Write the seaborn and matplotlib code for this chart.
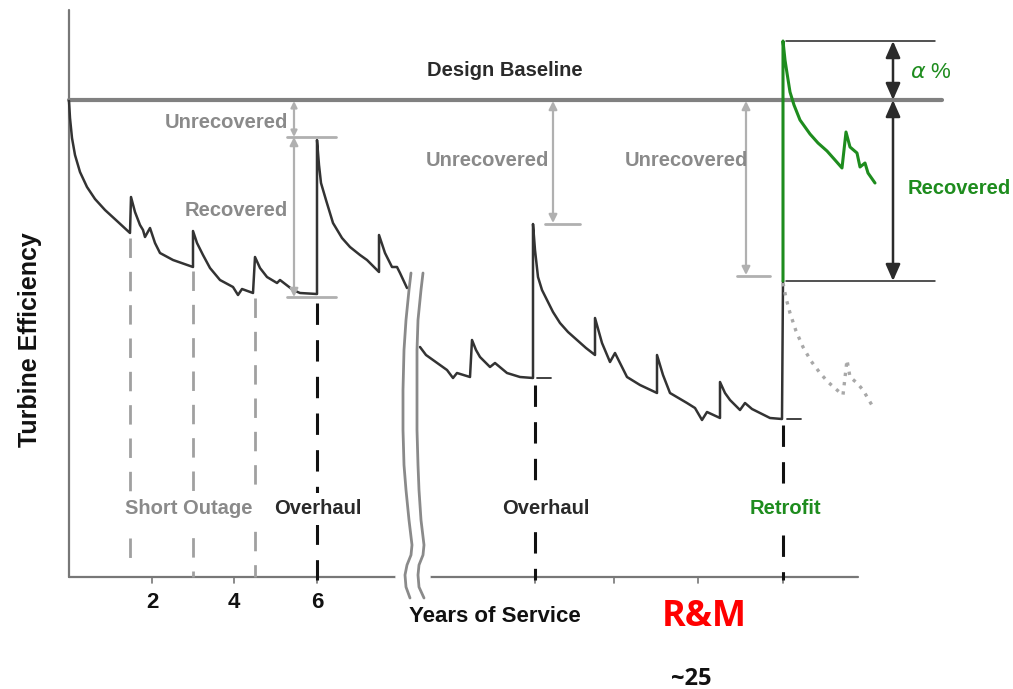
import numpy as np
import pandas as pd
import seaborn as sns
import matplotlib.pyplot as plt
from matplotlib import font_manager

sns.set_theme(style="white")

# positions are in plot units (0..1013 across, 0..689 down, like the source picture)
# efficiency trace before the axis break
pre_x = [69, 70, 72, 75, 80, 87, 95, 105, 117, 130, 131, 135, 140, 143, 145, 150, 155, 160, 173, 193,
         193, 197, 203, 210, 220, 233, 238, 242, 253, 255, 260, 267, 277, 280, 293, 300, 317,
         317, 319, 321, 326, 333, 342, 350, 360, 367, 379, 379, 385, 392, 397, 400, 407]
pre_y = [101, 118, 138, 155, 172, 187, 199, 210, 221, 233, 197, 212, 225, 230, 237, 228, 243, 253, 260, 267,
         231, 243, 255, 268, 280, 287, 295, 289, 293, 257, 268, 277, 283, 280, 290, 293, 294,
         140, 165, 183, 200, 223, 238, 247, 255, 260, 272, 235, 253, 267, 267, 273, 288]

# efficiency trace after the axis break, up to the retrofit
post_x = [420, 426, 433, 447, 453, 457, 470, 472, 476, 480, 490, 495, 507, 520, 533,
          533, 535, 538, 542, 547, 553, 560, 568, 577, 586, 595, 595, 602, 610, 615, 627, 640, 657,
          657, 663, 670, 687, 695, 702, 707, 720, 720, 725, 730, 740, 745, 752, 760, 770, 782, 783]
post_y = [347, 355, 360, 370, 378, 373, 377, 340, 350, 357, 367, 363, 373, 377, 378,
          224, 250, 277, 290, 300, 312, 323, 332, 340, 348, 355, 318, 343, 362, 353, 377, 385, 393,
          355, 375, 393, 403, 408, 420, 412, 418, 382, 393, 400, 410, 403, 409, 413, 418, 419, 281]

# retrofit trace (green)
retro_x = [783, 783, 785, 787, 790, 794, 800, 810, 818, 827, 835, 842, 846, 850, 857, 860, 865, 868, 875]
retro_y = [281, 41, 60, 73, 92, 105, 120, 134, 143, 151, 160, 168, 132, 147, 153, 167, 163, 173, 183]

# what would have happened without retrofit (dotted)
norefit_x = [783, 786, 790, 796, 803, 811, 820, 828, 837, 843, 847, 850, 857, 863, 873]
norefit_y = [283, 298, 313, 331, 347, 361, 373, 382, 390, 395, 360, 377, 383, 390, 407]

baseline_y = 100
axis_y = 577
axis_x = 69

short_outage_x = [130, 193, 255]
short_outage_top = [238, 271, 298]
overhaul_x = [317, 535]
overhaul_top = [303, 385]
retrofit_x = 783
retrofit_top = 425

tick_x = [152, 234, 317, 535, 614, 698, 783]
tick_labels = ["2", "4", "6"]

# break symbol (two wavy lines)
brk_left_x = [411, 409, 406, 404, 403, 403, 404, 406, 409, 412, 411, 407, 405, 406, 410]
brk_right_x = [423, 421, 418, 417, 417, 417, 418, 419, 421, 424, 423, 419, 418, 419, 424]
brk_y = [273, 290, 320, 350, 390, 430, 465, 490, 520, 545, 555, 565, 575, 587, 598]

cond = ["Liberation Sans", "DejaVu Sans"]
plain = ["Liberation Sans", "DejaVu Sans"]
round_font = ["Open Sans", "Liberation Sans", "DejaVu Sans"]

fig = plt.figure(figsize=(10.13, 6.89), dpi=100)
ax = fig.add_axes([0, 0, 1, 1])
ax.set_xlim(0, 1013)
ax.set_ylim(689, 0)
ax.axis("off")

dark = "#333333"
green = "#1e8c1e"
lgrey = "#b0b0b0"

# axes lines
ax.plot([axis_x, axis_x], [10, axis_y], color="#777777", lw=1.6)
ax.plot([axis_x, 398], [axis_y, axis_y], color="#777777", lw=1.6)
ax.plot([428, 858], [axis_y, axis_y], color="#777777", lw=1.6)
for tx in tick_x:
    ax.plot([tx, tx], [axis_y, axis_y + 6], color="#777777", lw=1.2)

# design baseline
ax.plot([axis_x, 942], [baseline_y, baseline_y], color="#808080", lw=3)
ax.text(505, 71, "Design Baseline", family=cond, fontweight="bold", fontsize=14.5,
        color="#2a2a2a", ha="center", va="center")

# dashed event lines
for xv, top in zip(short_outage_x, short_outage_top):
    ax.plot([xv, xv], [top, axis_y - 8 if xv == 130 else axis_y], color="#a0a0a0",
            lw=2, dashes=(7, 5))
for xv, top in zip(overhaul_x, overhaul_top):
    ax.plot([xv, xv], [top, axis_y + 3], color="#111111", lw=2.2, dashes=(7, 5))
ax.plot([retrofit_x, retrofit_x], [retrofit_top, axis_y + 3], color="#111111", lw=2.2,
        dashes=(7, 5))

# curves
sns.lineplot(data=pd.DataFrame({"x": pre_x, "y": pre_y}), x="x", y="y", sort=False,
             estimator=None, color=dark, lw=1.8, ax=ax)
sns.lineplot(data=pd.DataFrame({"x": post_x, "y": post_y}), x="x", y="y", sort=False,
             estimator=None, color=dark, lw=1.8, ax=ax)
sns.lineplot(data=pd.DataFrame({"x": norefit_x, "y": norefit_y}), x="x", y="y", sort=False,
             estimator=None, color="#a8a8a8", lw=2.4, linestyle=(0, (1, 1.8)), ax=ax)
sns.lineplot(data=pd.DataFrame({"x": retro_x, "y": retro_y}), x="x", y="y", sort=False,
             estimator=None, color=green, lw=2.2, ax=ax)

# small level markers after overhauls
ax.plot([537, 551], [378, 378], color=dark, lw=1.3)
ax.plot([787, 801], [419, 419], color=dark, lw=1.3)

# break symbol
ax.plot([398, 428], [axis_y, axis_y], color="white", lw=4)
ax.plot(brk_left_x, brk_y, color="#8a8a8a", lw=2)
ax.plot(brk_right_x, brk_y, color="#8a8a8a", lw=2)

# grey recovered / unrecovered markers
ag = dict(arrowstyle="<|-|>", color=lgrey, lw=1.6, mutation_scale=12,
          shrinkA=0, shrinkB=0)
ax.plot([287, 336], [137, 137], color=lgrey, lw=2)
ax.plot([287, 336], [297, 297], color=lgrey, lw=2)
ax.annotate("", xy=(294, 101), xytext=(294, 137), arrowprops=dict(ag, mutation_scale=9))
ax.annotate("", xy=(294, 137), xytext=(294, 297), arrowprops=ag)
ax.plot([545, 580], [224, 224], color=lgrey, lw=2)
ax.annotate("", xy=(553, 101), xytext=(553, 223), arrowprops=ag)
ax.plot([737, 770], [276, 276], color=lgrey, lw=2)
ax.annotate("", xy=(746, 101), xytext=(746, 275), arrowprops=ag)

# black alpha / recovered markers
ax.plot([786, 935], [41, 41], color="#222222", lw=1.1)
ax.plot([786, 935], [281, 281], color="#222222", lw=1.1)
ak = dict(arrowstyle="<|-|>,head_length=0.5,head_width=0.22", color="#2b2b2b", lw=1.8,
          mutation_scale=20, shrinkA=0, shrinkB=0)
ax.annotate("", xy=(893, 41), xytext=(893, 100), arrowprops=ak)
ax.annotate("", xy=(893, 100), xytext=(893, 281), arrowprops=ak)

# labels
lab = dict(family=cond, fontweight="bold", fontsize=14.5, ha="center", va="center")
ax.text(226, 122, "Unrecovered", color="#8a8a8a", **lab)
ax.text(236, 211, "Recovered", color="#8a8a8a", **lab)
ax.text(487, 161, "Unrecovered", color="#8a8a8a", **lab)
ax.text(686, 161, "Unrecovered", color="#8a8a8a", **lab)
ax.text(959, 188, "Recovered", color=green, **lab)
ax.text(931, 72, r"$\alpha$ %", color=green, family=cond, fontsize=16, ha="center",
        va="center")

wbox = dict(facecolor="white", edgecolor="none", pad=5)
ax.text(189, 509, "Short Outage", color="#8a8a8a", bbox=wbox, **lab)
ax.text(318, 509, "Overhaul", color="#2a2a2a", bbox=wbox, **lab)
ax.text(546, 509, "Overhaul", color="#2a2a2a", bbox=wbox, **lab)
ax.text(785, 509, "Retrofit", color=green, bbox=wbox, **lab)

for tx, tl in zip(tick_x, tick_labels):
    ax.text(tx, 603, tl, family=plain, fontweight="bold", fontsize=16, color="#111111",
            ha="center", va="center")
ax.text(495, 616, "Years of Service", family=cond, fontweight="bold", fontsize=16,
        color="#111111", ha="center", va="center")
ax.text(704, 617, "R&M", family=round_font, fontweight="bold", fontsize=26, color="#ff0000",
        ha="center", va="center")
ax.text(691, 679, "~25", family=round_font, fontweight="bold", fontsize=17, color="#111111",
        ha="center", va="center")
ax.text(30, 340, "Turbine Efficiency", family=plain, fontweight="bold", fontsize=18,
        color="#111111", ha="center", va="center", rotation=90)

fig.savefig("out.png", dpi=100)
